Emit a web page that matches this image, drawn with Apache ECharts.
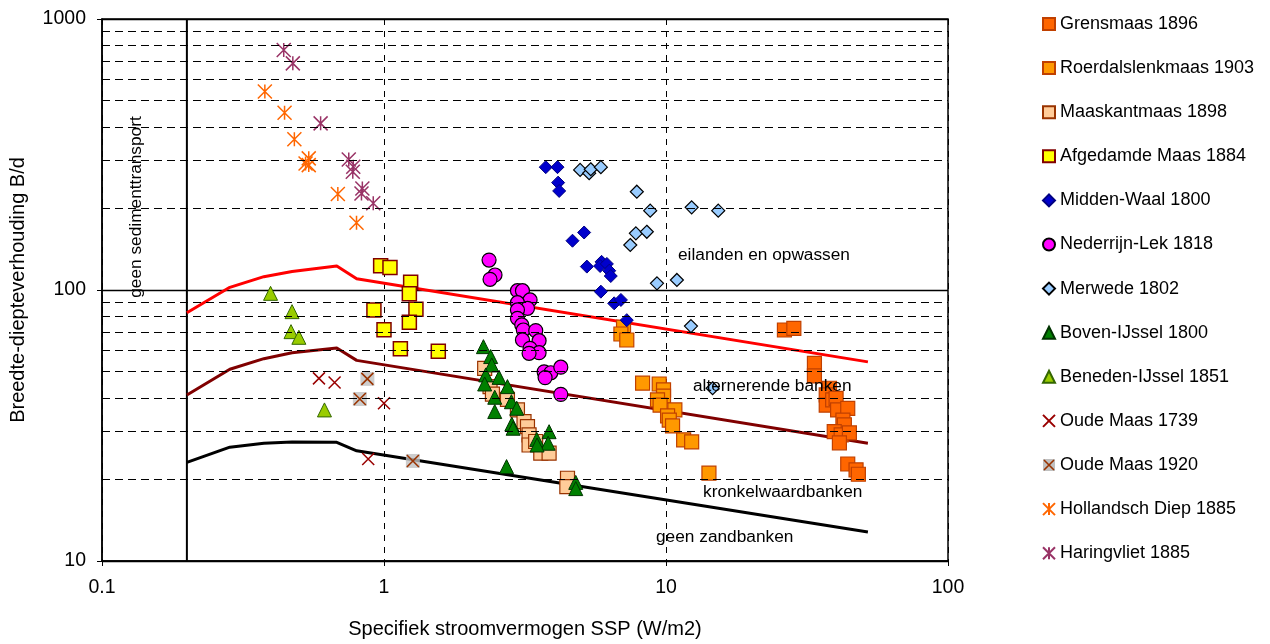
<!DOCTYPE html>
<html>
<head>
<meta charset="utf-8">
<script src="https://cdn.jsdelivr.net/npm/echarts@6/dist/echarts.min.js"></script>
<style>
  html, body { margin: 0; padding: 0; background: #ffffff; }
  #chart { width: 1270px; height: 644px; }
</style>
</head>
<body>
<div id="chart"></div>
<script>
// ---- axis ticks ----
const xTickValues = [0.1, 1, 10, 100];
const xTickLabels = ['0.1', '1', '10', '100'];
const yTickValues = [10, 100, 1000];
const yTickLabels = ['10', '100', '1000'];
const yMinorGrid = [20, 30, 40, 50, 60, 70, 80, 90, 200, 300, 400, 500, 600, 700, 800, 900];

// ---- regime boundaries: [SSP, B/d] ----
const boundaryIslands = [[0.2, 82.4], [0.284, 102.3], [0.375, 112], [0.472, 117], [0.68, 122.6], [0.8, 110], [52, 54.3]];
const boundaryAlternate = [[0.2, 41], [0.284, 51], [0.375, 55.8], [0.472, 58.7], [0.68, 61.1], [0.8, 55], [52, 27.2]];
const boundaryMeander = [[0.2, 23.1], [0.284, 26.3], [0.375, 27.2], [0.472, 27.5], [0.68, 27.4], [0.8, 25.5], [52, 12.8]];
const noTransportLimit = [[0.2, 10], [0.2, 1000]];

// ---- river reaches: [SSP (W/m2), B/d] ----
const grensmaas1896 = [[26.3, 71.2], [28.4, 72.2], [33.6, 53.6], [33.6, 48.2], [38.0, 43.4], [37.0, 41.0], [37.0, 37.6],
  [39.0, 39.3], [40.1, 39.8], [40.6, 36.1], [44.1, 36.6], [42.4, 33.1], [42.9, 31.8], [39.5, 30.0], [41.8, 29.2],
  [44.7, 29.7], [41.2, 27.3], [44.1, 22.8], [47.2, 21.7], [48.1, 20.9]];
const roerdalslenkmaas1903 = [[7.07, 72.9], [6.92, 68.8], [7.26, 65.4], [8.26, 45.3], [9.46, 45.0], [9.8, 42.8], [9.8, 40.6],
  [9.33, 39.3], [9.53, 37.6], [10.75, 36.1], [10.13, 34.3], [10.27, 33.1], [10.55, 31.5], [11.55, 28.0], [12.33, 27.5], [14.2, 21.1]];
const maaskantmaas1898 = [[2.275, 51.4], [2.377, 44.0], [2.424, 41.3], [2.74, 39.5], [2.973, 36.1], [3.137, 32.7], [3.227, 31.3],
  [3.269, 29.2], [3.269, 26.8], [3.45, 27.6], [3.597, 25.0], [3.85, 25.0], [4.474, 20.2], [4.45, 18.8]];
const afgedamdeMaas1884 = [[0.973, 123], [1.05, 121], [1.243, 106.8], [1.23, 96.9], [0.921, 84.4], [1.298, 84.9], [1.23, 76.0],
  [1.0, 71.4], [1.143, 60.7], [1.558, 59.4]];
const middenWaal1800 = [[3.747, 284], [4.123, 284], [4.144, 249], [4.18, 232], [5.125, 163], [4.66, 152], [5.24, 122], [5.91, 127],
  [5.84, 122.6], [6.17, 124.8], [6.29, 117.8], [6.37, 112.6], [5.875, 98.6], [6.55, 89.3], [6.92, 91.9], [7.26, 77.4]];
const nederrijnLek1818 = [[2.358, 129], [2.475, 113.6], [2.377, 109.5], [2.973, 99.4], [3.097, 99.4], [3.296, 91.9], [2.973, 89.8],
  [3.227, 85.6], [2.973, 84.4], [2.973, 78.6], [3.08, 74.3], [3.12, 71.2], [3.452, 70.8], [3.097, 65.4], [3.548, 65.0],
  [3.296, 60.9], [3.548, 58.7], [3.269, 58.4], [3.696, 49.9], [3.904, 49.5], [4.236, 51.9], [3.726, 47.5], [4.236, 41.2]];
const merwede1802 = [[4.96, 277.5], [5.34, 269.6], [5.41, 279], [5.875, 284], [7.88, 230.5], [8.79, 196.2], [12.33, 201.8],
  [15.32, 196.2], [7.82, 161.8], [8.55, 164], [7.47, 146.6], [9.29, 105.8], [10.93, 108.9], [12.26, 73.6], [14.63, 43.4]];
const bovenIJssel1800 = [[2.252, 61.8], [2.389, 56.8], [2.41, 52.9], [2.295, 48.6], [2.559, 47.6], [2.275, 45.0], [2.74, 44.0],
  [2.47, 40.2], [2.47, 35.6], [2.83, 38.7], [2.956, 36.6], [2.84, 32.0], [2.87, 30.9], [3.48, 28.1], [3.85, 30.0],
  [3.82, 27.2], [3.49, 26.8], [2.72, 22.3], [4.786, 19.5], [4.786, 18.5]];
const benedenIJssel1851 = [[0.396, 97.2], [0.472, 83.2], [0.468, 70.2], [0.499, 66.9], [0.615, 36.1]];
const oudeMaas1739 = [[0.588, 47.2], [0.668, 45.6], [1.0, 38.2], [0.879, 23.8]];
const oudeMaas1920 = [[0.873, 47.0], [0.821, 39.6], [1.266, 23.4]];
const hollandschDiep1885 = [[0.378, 540], [0.444, 451], [0.481, 360], [0.541, 306], [0.527, 293], [0.541, 289], [0.686, 226], [0.799, 177]];
const haringvliet1885 = [[0.441, 769], [0.475, 686], [0.596, 412], [0.750, 303], [0.778, 285], [0.775, 273], [0.838, 237], [0.832, 227], [0.916, 209]];

const FONT = '"Liberation Sans", Arial, Helvetica, sans-serif';
const CROSS = 'path://M0,0L10,10M10,0L0,10';
const STAR = 'path://M0,0L10,10M10,0L0,10M5,0L5,10';
const crossOnGrey = 'image://data:image/svg+xml;utf8,' + encodeURIComponent(
  '<svg xmlns="http://www.w3.org/2000/svg" width="12" height="12" viewBox="0 0 12 12">' +
  '<rect width="12" height="12" fill="#C0C0C0"/>' +
  '<path d="M1,1L11,11M11,1L1,11" stroke="#993300" stroke-width="1.6" fill="none"/></svg>');

function tickLabel(values, labels) {
  return function (v) {
    for (let i = 0; i < values.length; i++) {
      if (Math.abs(Math.log10(values[i]) - Math.log10(v)) < 1e-6) return labels[i];
    }
    return '';
  };
}

function scatter(name, data, symbol, size, fill, border, bw) {
  return {
    name: name, type: 'scatter', data: data, symbol: symbol, symbolSize: size,
    itemStyle: { color: fill, borderColor: border, borderWidth: bw, opacity: 1 },
    emphasis: { disabled: true }, z: 3
  };
}

function boundary(data, color) {
  return {
    type: 'line', data: data, showSymbol: false, symbol: 'none', silent: true, z: 2,
    lineStyle: { color: color, width: 3, cap: 'butt', join: 'round' }
  };
}

const chart = echarts.init(document.getElementById('chart'), null, { renderer: 'canvas' });

chart.setOption({
  animation: false,
  backgroundColor: '#ffffff',
  textStyle: { fontFamily: FONT },
  grid: { left: 102, right: 322, top: 19, bottom: 83, show: true, borderColor: '#000', borderWidth: 1.5, backgroundColor: '#fff' },
  legend: {
    orient: 'vertical', left: 1042, top: 15, padding: 0, itemGap: 26.1,
    itemWidth: 12, itemHeight: 12, selectedMode: false,
    textStyle: { fontSize: 18, color: '#000', fontFamily: FONT, padding: [0, 0, 0, 0] },
    data: [
      'Grensmaas 1896', 'Roerdalslenkmaas 1903', 'Maaskantmaas 1898', 'Afgedamde Maas 1884',
      'Midden-Waal 1800', 'Nederrijn-Lek 1818', 'Merwede 1802', 'Boven-IJssel 1800',
      'Beneden-IJssel 1851', 'Oude Maas 1739', { name: 'Oude Maas 1920', icon: crossOnGrey },
      'Hollandsch Diep 1885', 'Haringvliet 1885'
    ]
  },
  xAxis: {
    type: 'log', logBase: 10, min: 0.1, max: 100,
    name: 'Specifiek stroomvermogen SSP (W/m2)', nameLocation: 'middle', nameGap: 58,
    nameTextStyle: { fontSize: 20, color: '#000', fontFamily: FONT },
    axisLine: { show: true, onZero: false, lineStyle: { color: '#000', width: 1.5 } },
    axisTick: { show: true, length: 5, lineStyle: { color: '#000', width: 1 } },
    axisLabel: { fontSize: 19.5, color: '#000', margin: 17, fontFamily: FONT, formatter: tickLabel(xTickValues, xTickLabels) },
    splitLine: { show: true, lineStyle: { color: '#000', width: 1, type: [6, 6] } },
    minorTick: { show: false }, minorSplitLine: { show: false }
  },
  yAxis: {
    type: 'log', logBase: 10, min: 10, max: 1000,
    name: 'Breedte-diepteverhouding B/d', nameLocation: 'middle', nameGap: 74, nameRotate: 90,
    nameTextStyle: { fontSize: 20, color: '#000', fontFamily: FONT },
    axisLine: { show: true, onZero: false, lineStyle: { color: '#000', width: 1.5 } },
    axisTick: { show: true, length: 5, lineStyle: { color: '#000', width: 1 } },
    axisLabel: { fontSize: 19.5, color: '#000', margin: 16, fontFamily: FONT, formatter: tickLabel(yTickValues, yTickLabels) },
    splitLine: { show: true, lineStyle: { color: '#000', width: 1.3, type: 'solid' } },
    minorTick: { show: false }, minorSplitLine: { show: false }
  },
  series: [
    {
      type: 'line', data: noTransportLimit, showSymbol: false, symbol: 'none', silent: true, z: 1,
      lineStyle: { color: '#000', width: 2 },
      markLine: {
        silent: true, symbol: 'none', animation: false, label: { show: false },
        lineStyle: { color: '#000', width: 1, type: [8, 5] },
        emphasis: { disabled: true },
        data: yMinorGrid.map(v => ({ yAxis: v }))
      }
    },
    boundary(boundaryIslands, '#FF0000'),
    boundary(boundaryAlternate, '#800000'),
    boundary(boundaryMeander, '#000000'),
    scatter('Grensmaas 1896', grensmaas1896, 'rect', 14, '#FF6600', '#C04000', 1.2),
    scatter('Roerdalslenkmaas 1903', roerdalslenkmaas1903, 'rect', 14, '#FF9900', '#C04000', 1.2),
    scatter('Maaskantmaas 1898', maaskantmaas1898, 'rect', 14, '#FFCC99', '#993300', 1.2),
    scatter('Afgedamde Maas 1884', afgedamdeMaas1884, 'rect', 14, '#FFFF00', '#800000', 1.5),
    scatter('Midden-Waal 1800', middenWaal1800, 'diamond', 13, '#0000CC', '#000080', 1),
    scatter('Nederrijn-Lek 1818', nederrijnLek1818, 'circle', 14, '#FF00FF', '#000000', 1.2),
    scatter('Merwede 1802', merwede1802, 'diamond', 13, '#99CCFF', '#000000', 1.2),
    scatter('Boven-IJssel 1800', bovenIJssel1800, 'triangle', 14, '#008000', '#003300', 1),
    scatter('Beneden-IJssel 1851', benedenIJssel1851, 'triangle', 14, '#99CC00', '#336600', 1),
    scatter('Oude Maas 1739', oudeMaas1739, CROSS, 12, 'rgba(0,0,0,0)', '#990000', 1.5),
    {
      type: 'scatter', data: oudeMaas1920, symbol: 'rect', symbolSize: 14, silent: true, z: 3,
      itemStyle: { color: '#C0C0C0', borderWidth: 0 }
    },
    scatter('Oude Maas 1920', oudeMaas1920, CROSS, 12, 'rgba(0,0,0,0)', '#993300', 1.6),
    scatter('Hollandsch Diep 1885', hollandschDiep1885, STAR, 14, 'rgba(0,0,0,0)', '#FF6600', 1.5),
    scatter('Haringvliet 1885', haringvliet1885, STAR, 14, 'rgba(0,0,0,0)', '#993366', 1.5)
  ],
  graphic: [
    { type: 'text', left: 678, top: 247, silent: true, style: { text: 'eilanden en opwassen', font: '17.3px ' + FONT, fill: '#000' } },
    { type: 'text', left: 693, top: 378, silent: true, z: 10, style: { text: 'alternerende banken', font: '17.3px ' + FONT, fill: '#000' } },
    { type: 'text', left: 703, top: 484, silent: true, style: { text: 'kronkelwaardbanken', font: '17.3px ' + FONT, fill: '#000' } },
    { type: 'text', left: 656, top: 529, silent: true, style: { text: 'geen zandbanken', font: '17.3px ' + FONT, fill: '#000' } },
    {
      type: 'text', x: 136, y: 207, rotation: Math.PI / 2, silent: true,
      style: { text: 'geen sedimenttransport', font: '17.3px ' + FONT, fill: '#000', align: 'center', verticalAlign: 'middle' }
    }
  ]
});
</script>
</body>
</html>
